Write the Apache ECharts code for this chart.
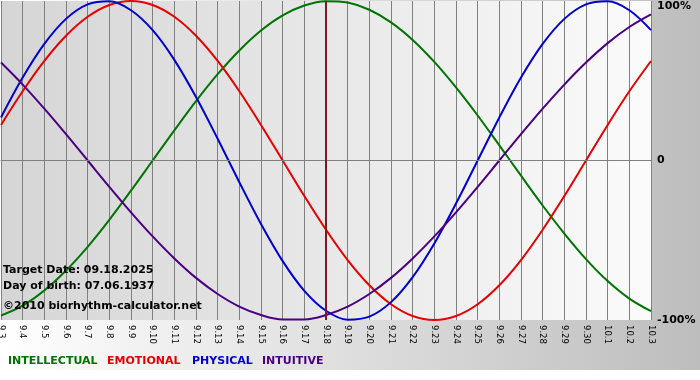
<!DOCTYPE html>
<html>
<head>
<meta charset="utf-8">
<script src="https://cdn.jsdelivr.net/npm/echarts@6/dist/echarts.min.js"></script>
<style>
  html, body { margin: 0; padding: 0; background: #fff; }
  #chart {
    width: 700px; height: 380px;
    background: linear-gradient(to right, #ffffff, #bdbdbd) no-repeat;
    background-size: 700px 370px;
  }
</style>
</head>
<body>
<div id="chart"></div>
<script>
// days shown (month.day)
var days = ['9.3','9.4','9.5','9.6','9.7','9.8','9.9','9.10','9.11','9.12','9.13','9.14','9.15','9.16',
            '9.17','9.18','9.19','9.20','9.21','9.22','9.23','9.24','9.25','9.26','9.27','9.28','9.29',
            '9.30','10.1','10.2','10.3'];

// cycle values, -1 .. 1
var intellectual = [-0.972,-0.910,-0.815,-0.690,-0.541,-0.372,-0.189,0,0.189,0.372,0.541,0.690,0.815,0.910,
                    0.972,0.999,0.990,0.945,0.866,0.756,0.618,0.458,0.282,0.095,-0.095,-0.282,-0.458,
                    -0.618,-0.756,-0.866,-0.945];
var emotional = [0.223,0.434,0.624,0.782,0.901,0.975,1.0,0.975,0.901,0.782,0.624,0.434,0.223,0,
                 -0.223,-0.434,-0.624,-0.782,-0.901,-0.975,-1.0,-0.975,-0.901,-0.782,-0.624,-0.434,-0.223,
                 0,0.223,0.434,0.624];
var physical = [0.270,0.520,0.731,0.888,0.979,0.998,0.942,0.817,0.631,0.398,0.136,-0.136,-0.398,-0.631,
                -0.817,-0.942,-0.998,-0.979,-0.888,-0.731,-0.520,-0.270,0,0.270,0.520,0.731,0.888,
                0.979,0.998,0.942,0.817];
var intuitive = [0.614,0.476,0.325,0.165,0,-0.165,-0.325,-0.476,-0.614,-0.736,-0.837,-0.916,-0.969,-0.997,
                 -0.997,-0.969,-0.916,-0.837,-0.736,-0.614,-0.476,-0.325,-0.165,0,0.165,0.325,0.476,
                 0.614,0.736,0.837,0.916];

var targetDay = '9.18';
var yTicks = {'1': '100%', '0': '0', '-1': '-100%'};

var FONT = '"DejaVu Sans", Verdana, sans-serif';

function curve(name, data, color) {
    return {
        name: name,
        type: 'line',
        data: data,
        smooth: 0.35,
        symbol: 'none',
        lineStyle: { color: color, width: 2 },
        itemStyle: { color: color }
    };
}

var series = [
    curve('INTELLECTUAL', intellectual, '#007400'),
    curve('EMOTIONAL', emotional, '#e80000'),
    curve('PHYSICAL', physical, '#0000d0'),
    curve('INTUITIVE', intuitive, '#4a0080')
];
// zero line and target date line
series[0].markLine = {
    silent: true,
    symbol: 'none',
    label: { show: false },
    animation: false,
    data: [
        { yAxis: 0, lineStyle: { color: '#808080', width: 1, type: 'solid' } },
        { xAxis: targetDay, lineStyle: { color: '#7a1c1c', width: 2, type: 'solid' } }
    ]
};

var option = {
    animation: false,
    grid: {
        left: 1,
        right: 49,
        top: 1,
        bottom: 60,
        outerBoundsMode: 'none',
        containLabel: false,
        show: true,
        borderWidth: 0,
        backgroundColor: new echarts.graphic.LinearGradient(0, 0, 1, 0, [
            { offset: 0, color: '#d5d5d5' },
            { offset: 1, color: '#fbfbfb' }
        ])
    },
    xAxis: {
        type: 'category',
        data: days,
        boundaryGap: false,
        axisLine: { lineStyle: { color: '#808080', width: 1 } },
        axisTick: { show: true, interval: 0, length: 4, lineStyle: { color: '#808080' } },
        splitLine: { show: true, interval: 0, lineStyle: { color: '#808080', width: 1 } },
        axisLabel: {
            interval: 0,
            rotate: -90,
            margin: 5,
            color: '#000',
            fontFamily: FONT,
            fontSize: 8.5
        }
    },
    yAxis: {
        type: 'value',
        position: 'right',
        min: -1,
        max: 1,
        interval: 1,
        axisLine: { show: false },
        axisTick: { show: false },
        splitLine: { show: false },
        axisLabel: {
            margin: 6,
            color: '#000',
            fontFamily: FONT,
            fontSize: 11,
            fontWeight: 'bold',
            formatter: function (v) {
                var s = yTicks[String(v)];
                return v === 1 ? '{t|' + s + '}' : s;
            },
            rich: {
                t: { fontFamily: FONT, fontSize: 11, fontWeight: 'bold', color: '#000', padding: [10, 0, 0, 0] }
            }
        }
    },
    graphic: [
        { type: 'text', left: 3, top: 265, z: 100,
          style: { text: 'Target Date: 09.18.2025', font: 'bold 11px ' + FONT, fill: '#000' } },
        { type: 'text', left: 3, top: 281, z: 100,
          style: { text: 'Day of birth: 07.06.1937', font: 'bold 11px ' + FONT, fill: '#000' } },
        { type: 'text', left: 3, top: 301, z: 100,
          style: { text: '©2010 biorhythm-calculator.net', font: 'bold 11px ' + FONT, fill: '#000' } },
        { type: 'text', left: 8, top: 356,
          style: { text: 'INTELLECTUAL', font: 'bold 11px ' + FONT, fill: '#007400' } },
        { type: 'text', left: 107, top: 356,
          style: { text: 'EMOTIONAL', font: 'bold 11px ' + FONT, fill: '#e80000' } },
        { type: 'text', left: 192, top: 356,
          style: { text: 'PHYSICAL', font: 'bold 11px ' + FONT, fill: '#0000d0' } },
        { type: 'text', left: 262, top: 356,
          style: { text: 'INTUITIVE', font: 'bold 11px ' + FONT, fill: '#4a0080' } }
    ],
    series: series
};

var chart = echarts.init(document.getElementById('chart'));
chart.setOption(option);
</script>
</body>
</html>
